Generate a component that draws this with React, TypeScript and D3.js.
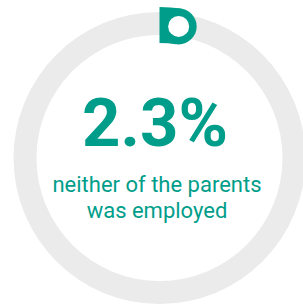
import React from "react";
import * as d3 from "d3";

const percentValue = [2.3];
const labelLines = ["neither of the parents", "was employed"];
const valueLabel = ["2.3%"];

const W = 303;
const H = 305;
const cx = 159.5;
const cy = 158;
const TEAL = "#009e8a";
const GRAY = "#ebebeb";

export default function App() {
  const scale = d3.scaleLinear().domain([0, 100]).range([0, 2 * Math.PI]);
  const endAngle = scale(percentValue[0]);
  const bg = d3.arc()({ innerRadius: 123, outerRadius: 146, startAngle: 0, endAngle: 2 * Math.PI } as any) as string;
  const fg = d3.arc()({ innerRadius: 115, outerRadius: 151, startAngle: 0, endAngle } as any) as string;
  const rMid = 133;
  const ex = Math.sin(endAngle) * rMid;
  const ey = -Math.cos(endAngle) * rMid;
  return (
    <svg width={W} height={H} style={{ position: "absolute", left: 0, top: 0 }}>
      <g transform={`translate(${cx},${cy})`}>
        <path d={bg} fill={GRAY} />
        <path d={fg} fill={TEAL} />
        <circle cx={ex} cy={ey} r={18} fill={TEAL} />
        <circle cx={ex} cy={ey} r={10.5} fill="#ffffff" />
      </g>
      <text x={155} y={146} textAnchor="middle" fill={TEAL} fontFamily="Roboto" fontWeight={700} fontSize={67}>
        {valueLabel[0]}
      </text>
      {labelLines.map((l, i) => (
        <text key={i} x={157} y={191.5 + i * 26} textAnchor="middle" fill={TEAL} fontFamily="Roboto" fontWeight={400} fontSize={22}>
          {l}
        </text>
      ))}
    </svg>
  );
}
